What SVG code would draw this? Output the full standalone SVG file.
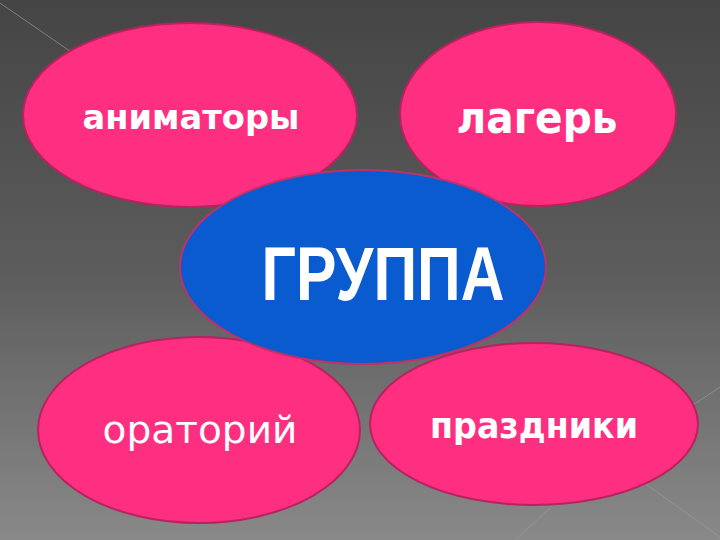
<svg xmlns="http://www.w3.org/2000/svg" width="720" height="540" viewBox="0 0 720 540">
<defs>
<linearGradient id="bg" x1="0" y1="0" x2="0" y2="1">
<stop offset="0" stop-color="#454545"/>
<stop offset="0.5" stop-color="#5c5c5c"/>
<stop offset="1" stop-color="#898989"/>
</linearGradient>
<style>
.pink{fill:#fe2e80;stroke:#b8225e;stroke-width:2}
.blue{fill:#0a5ad0;stroke:#c0306a;stroke-width:2}
.t{fill:#ffffff;text-anchor:middle;font-family:"DejaVu Sans","Liberation Sans",sans-serif}
.g{fill:#ffffff;text-anchor:middle;font-family:"Liberation Sans",Arial,sans-serif;font-weight:bold}
.deco{stroke:#9a9a9a;stroke-width:1;fill:none;opacity:0.7}
</style>
</defs>
<rect width="720" height="540" fill="url(#bg)"/>
<g id="decor">
<line class="deco" x1="0" y1="3" x2="80" y2="58"/>
<line class="deco" x1="640" y1="480" x2="720" y2="537"/>
<line class="deco" x1="690" y1="407" x2="720" y2="387"/>
<line class="deco" x1="550" y1="508" x2="515" y2="540"/>
</g>
<g id="animatory">
<ellipse class="pink" cx="190" cy="115" rx="167" ry="92"/>
<text class="t" x="191" y="129" font-size="34" font-weight="bold" textLength="217" lengthAdjust="spacingAndGlyphs">аниматоры</text>
</g>
<g id="lager">
<ellipse class="pink" cx="538" cy="114" rx="138" ry="92"/>
<text class="t" x="537" y="133" font-size="45" font-weight="bold" textLength="161" lengthAdjust="spacingAndGlyphs">лагерь</text>
</g>
<g id="oratoriy">
<ellipse class="pink" cx="199" cy="430" rx="161" ry="93"/>
<text class="t" x="200" y="443" font-size="37" textLength="195" lengthAdjust="spacingAndGlyphs">ораторий</text>
</g>
<g id="prazdniki">
<ellipse class="pink" cx="534" cy="424" rx="164" ry="81"/>
<text class="t" x="534" y="438" font-size="36" font-weight="bold" textLength="208" lengthAdjust="spacingAndGlyphs">праздники</text>
</g>
<g id="gruppa">
<ellipse class="blue" cx="363" cy="267" rx="183" ry="97"/>
<text class="g" x="383" y="300" font-size="76" textLength="243" lengthAdjust="spacingAndGlyphs">ГРУППА</text>
</g>
<g id="connectors"/>
</svg>
